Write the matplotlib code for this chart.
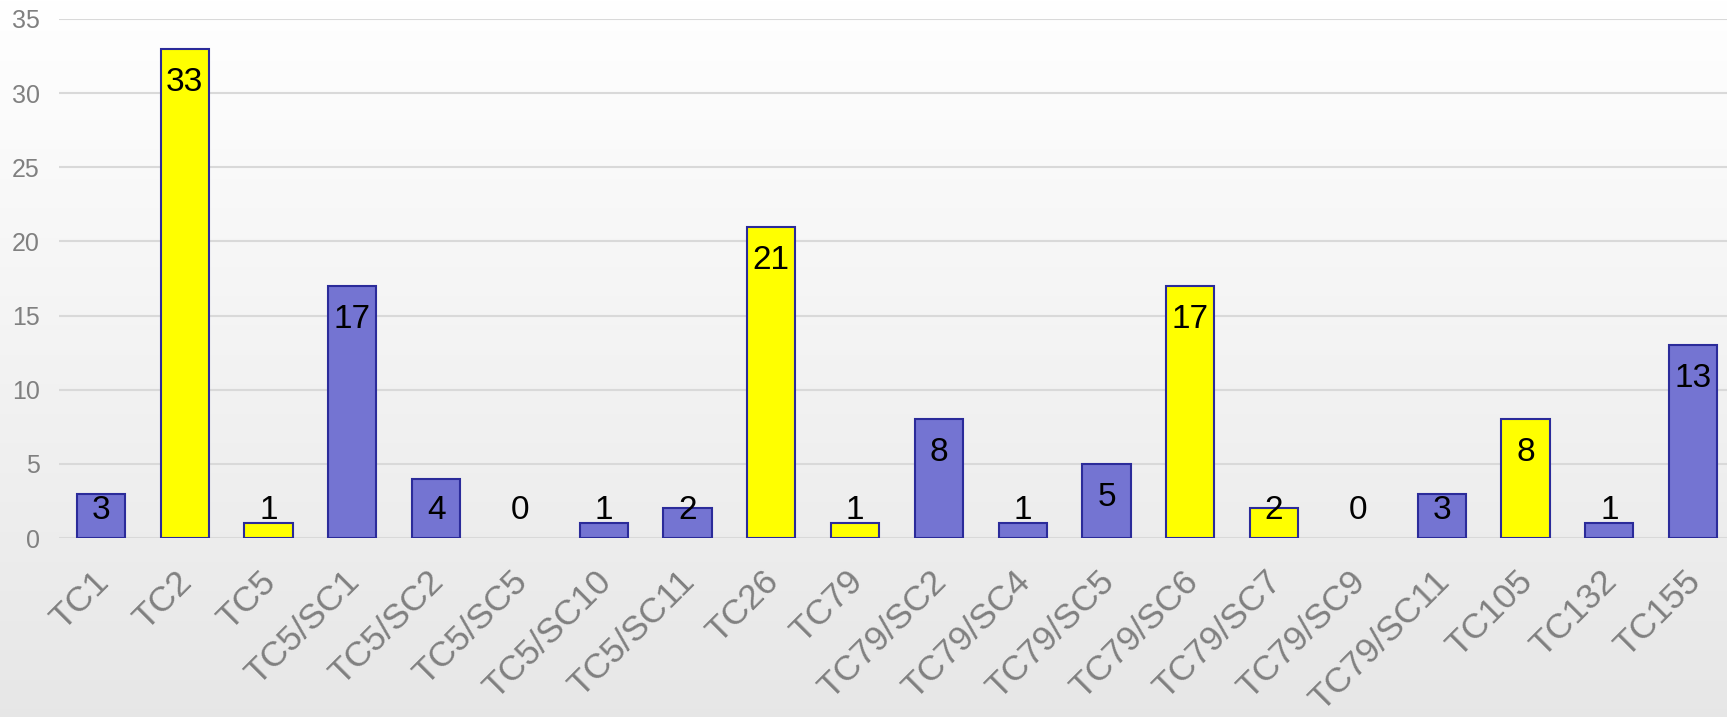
import numpy as np
import matplotlib.pyplot as plt

# data
categories = ['TC1', 'TC2', 'TC5', 'TC5/SC1', 'TC5/SC2', 'TC5/SC5', 'TC5/SC10',
              'TC5/SC11', 'TC26', 'TC79', 'TC79/SC2', 'TC79/SC4', 'TC79/SC5',
              'TC79/SC6', 'TC79/SC7', 'TC79/SC9', 'TC79/SC11', 'TC105', 'TC132', 'TC155']
counts = [3, 33, 1, 17, 4, 0, 1, 2, 21, 1, 8, 1, 5, 17, 2, 0, 3, 8, 1, 13]
highlighted = ['TC2', 'TC5', 'TC26', 'TC79', 'TC79/SC6', 'TC79/SC7', 'TC105']
yticks = [0, 5, 10, 15, 20, 25, 30, 35]

plt.rcParams['font.family'] = ['Liberation Sans', 'DejaVu Sans']

fig = plt.figure(figsize=(17.27, 7.17), dpi=100)

# background gradient, white at top to light grey at bottom
bg = fig.add_axes([0, 0, 1, 1], zorder=-10)
grad = np.linspace(1.0, 0.905, 256).reshape(-1, 1)
bg.imshow(np.dstack([grad, grad, grad]), aspect='auto', extent=[0, 1, 0, 1])
bg.set_axis_off()

ax = fig.add_axes([59 / 1727, 179 / 717, 1676 / 1727, 519 / 717])
ax.patch.set_alpha(0)

x = np.arange(len(categories))
colors = ['#ffff00' if c in highlighted else '#7474d2' for c in categories]
edges = ['#2b2b9a' if v > 0 else 'none' for v in counts]
ax.bar(x, counts, width=0.575, color=colors, edgecolor=edges, linewidth=1.5, zorder=3)

for xi, v in zip(x, counts):
    ax.text(xi, max(v - 2.83, 1.3), str(v), ha='center', va='baseline',
            fontsize=24, color='black', zorder=4)

ax.set_xlim(-0.5, len(categories) - 0.5)
ax.set_ylim(0, 35)
ax.set_yticks(yticks)
ax.grid(axis='y', color='#d9d9d9', linewidth=1.5, zorder=0)
for s in ax.spines.values():
    s.set_visible(False)
ax.tick_params(axis='both', length=0)
ax.tick_params(axis='y', labelsize=18, labelcolor='#808080', pad=14)
ax.set_xticks(x)
ax.set_xticklabels(categories, rotation=45, ha='right', va='center_baseline',
                   rotation_mode='anchor', fontsize=25.5, color='#808080')
ax.tick_params(axis='x', pad=26)

fig.savefig('out.png', dpi=100)
